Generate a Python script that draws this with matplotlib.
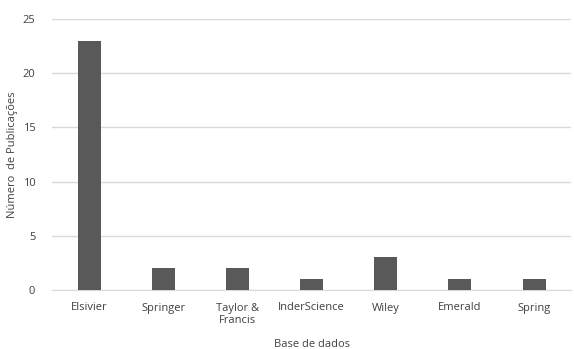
import matplotlib
matplotlib.use("Agg")
import matplotlib.pyplot as plt

categories = ["Elsivier", "Springer", "Taylor &\nFrancis", "InderScience", "Wiley", "Emerald", "Spring"]
values = [23, 2, 2, 1, 3, 1, 1]
yticks = [0, 5, 10, 15, 20, 25]

plt.rcParams['font.family'] = ['Open Sans', 'DejaVu Sans']

fig = plt.figure(figsize=(5.74, 3.49), dpi=100)
ax = fig.add_axes([52/574, 1 - 290/349, 1 - 52/574 - 0.005, (290 - 19)/349])

x = range(len(categories))
ax.bar(x, values, width=0.31, color="#595959", zorder=3)
ax.set_xlim(-0.5, len(categories) - 0.5)
ax.set_ylim(0, 25)
ax.set_yticks(yticks)
ax.set_xticks(list(x))
ax.set_xticklabels(categories)
ax.yaxis.grid(True, color="#d9d9d9", linewidth=1, zorder=0)
for s in ["top", "right", "left"]:
    ax.spines[s].set_visible(False)
ax.spines["bottom"].set_color("#d9d9d9")
ax.tick_params(axis="both", length=0, labelsize=8, colors="#404040")
ax.tick_params(axis="x", pad=9)
ax.tick_params(axis="y", pad=12)
ax.set_xlabel("Base de dados", fontsize=8, color="#404040", labelpad=9)
ax.set_ylabel("Número  de Publicações", fontsize=8, color="#404040", labelpad=3)

fig.savefig("out.png", dpi=100)
